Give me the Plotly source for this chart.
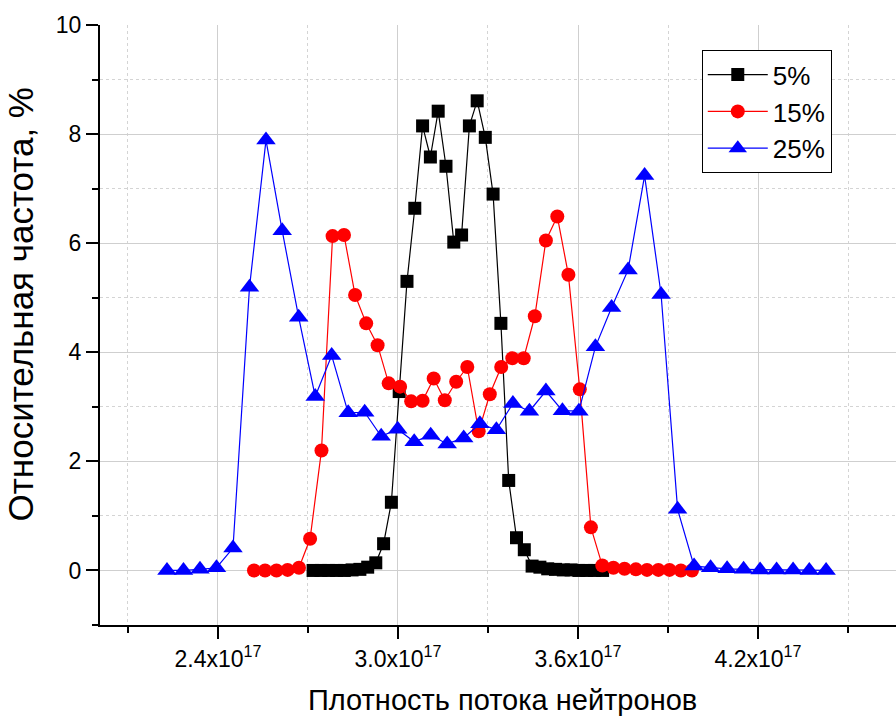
import plotly.graph_objects as go

# x values in units of 1e17
x_5 = [2.717, 2.743, 2.769, 2.795, 2.821, 2.847, 2.873, 2.899, 2.926, 2.952,
       2.978, 3.004, 3.030, 3.056, 3.082, 3.108, 3.134, 3.160, 3.186, 3.212,
       3.238, 3.264, 3.291, 3.317, 3.343, 3.369, 3.395, 3.421, 3.447, 3.473,
       3.499, 3.525, 3.551, 3.577, 3.603, 3.629, 3.655, 3.682]
y_5 = [0, 0, 0, 0, 0, 0.01, 0.02, 0.06, 0.14, 0.49,
       1.25, 3.28, 5.3, 6.64, 8.15, 7.58, 8.42, 7.41, 6.02, 6.15,
       8.15, 8.61, 7.94, 6.9, 4.53, 1.65, 0.6, 0.38, 0.08, 0.06,
       0.03, 0.02, 0.01, 0.01, 0, 0, 0, 0]

x_15 = [2.520, 2.557, 2.595, 2.632, 2.670, 2.707, 2.745, 2.782, 2.820, 2.857,
        2.894, 2.932, 2.969, 3.007, 3.044, 3.082, 3.119, 3.156, 3.194, 3.231,
        3.269, 3.306, 3.344, 3.381, 3.419, 3.456, 3.493, 3.531, 3.568, 3.606,
        3.643, 3.681, 3.718, 3.755, 3.793, 3.830, 3.868, 3.905, 3.943, 3.980]
y_15 = [0, 0, 0, 0.01, 0.05, 0.58, 2.2, 6.13, 6.15, 5.05,
        4.53, 4.13, 3.43, 3.37, 3.1, 3.11, 3.52, 3.12, 3.46, 3.73,
        2.55, 3.23, 3.73, 3.89, 3.89, 4.66, 6.05, 6.49, 5.42, 3.32,
        0.79, 0.09, 0.05, 0.03, 0.02, 0.01, 0.01, 0.01, 0, 0]

x_25 = [2.230, 2.285, 2.340, 2.395, 2.450, 2.505, 2.560, 2.614, 2.669, 2.724,
        2.779, 2.834, 2.889, 2.944, 2.999, 3.054, 3.109, 3.164, 3.219, 3.273,
        3.328, 3.383, 3.438, 3.493, 3.548, 3.603, 3.658, 3.712, 3.767, 3.822,
        3.877, 3.932, 3.987, 4.042, 4.097, 4.152, 4.207, 4.262, 4.317, 4.371,
        4.427]
y_25 = [0, 0, 0.02, 0.05, 0.41, 5.19, 7.89, 6.23, 4.64, 3.19,
        3.94, 2.89, 2.9, 2.46, 2.59, 2.36, 2.48, 2.32, 2.43, 2.69,
        2.58, 3.06, 2.92, 3.29, 2.93, 2.92, 4.1, 4.82, 5.51, 7.24,
        5.06, 1.12, 0.08, 0.05, 0.03, 0.02, 0.01, 0.01, 0.01, 0, 0]

series_names = ["5%", "15%", "25%"]

x_tick_vals = [2.4, 3.0, 3.6, 4.2]
x_tick_text = ["2.4x10<sup>17</sup>", "3.0x10<sup>17</sup>", "3.6x10<sup>17</sup>", "4.2x10<sup>17</sup>"]
x_minor_vals = [2.1, 2.7, 3.3, 3.9, 4.5]
y_tick_vals = [0, 2, 4, 6, 8, 10]
y_minor_vals = [-1, 1, 3, 5, 7, 9]

x_title = "Плотность потока нейтронов"
y_title = "Относительная частота, %"

SCALE = 1e17
FONT = "Liberation Sans, Arial, sans-serif"

fig = go.Figure()
styles = [
    ("#000000", "square", 13),
    ("#FF0000", "circle", 14),
    ("#0000FF", "triangle-up", 17),
]
for (xs, ys, name, (col, sym, sz)) in zip([x_5, x_15, x_25], [y_5, y_15, y_25], series_names, styles):
    fig.add_trace(go.Scatter(
        x=[v * SCALE for v in xs], y=ys, name=name, mode="lines+markers",
        line=dict(color=col, width=1.2),
        marker=dict(color=col, symbol=sym, size=sz, line=dict(width=0)),
    ))

fig.update_layout(
    width=896, height=718,
    margin=dict(l=100, r=0, t=25, b=93, autoexpand=False),
    paper_bgcolor="white", plot_bgcolor="white",
    font=dict(family=FONT, color="black", size=22),
    showlegend=True,
    legend=dict(
        x=0.756, y=0.958, xanchor="left", yanchor="top",
        bordercolor="black", borderwidth=1, bgcolor="white",
        font=dict(size=26, family=FONT),
        itemwidth=60, tracegroupgap=0,
    ),
    xaxis=dict(
        range=[2.0067 * SCALE, 4.66 * SCALE],
        automargin=False,
        tickmode="array",
        tickvals=[v * SCALE for v in x_tick_vals],
        ticktext=x_tick_text,
        ticks="outside", ticklen=12, tickwidth=2, tickcolor="black",
        showline=True, linecolor="black", linewidth=2,
        showgrid=True, gridcolor="#cfcfcf", gridwidth=1,
        zeroline=False,
        tickfont=dict(size=23, family=FONT),
        minor=dict(tickmode="array", tickvals=[v * SCALE for v in x_minor_vals],
                   ticks="outside", ticklen=6, tickwidth=2, tickcolor="black",
                   showgrid=True, gridcolor="#d4d4d4", griddash="dot", gridwidth=1),
    ),
    yaxis=dict(
        range=[-1, 10],
        automargin=False,
        tickmode="array", tickvals=y_tick_vals,
        ticks="outside", ticklen=12, tickwidth=2, tickcolor="black",
        showline=True, linecolor="black", linewidth=2,
        showgrid=True, gridcolor="#cfcfcf", gridwidth=1,
        zeroline=False,
        tickfont=dict(size=23, family=FONT),
        minor=dict(tickmode="array", tickvals=y_minor_vals,
                   ticks="outside", ticklen=6, tickwidth=2, tickcolor="black",
                   showgrid=True, gridcolor="#d4d4d4", griddash="dot", gridwidth=1),
    ),
    annotations=[
        dict(text=x_title, xref="paper", yref="paper", x=0.506, y=-0.155,
             xanchor="center", yanchor="bottom", showarrow=False,
             font=dict(size=29, family=FONT, color="black")),
        dict(text=y_title, xref="paper", yref="paper", x=-0.1, y=0.535,
             xanchor="center", yanchor="middle", showarrow=False, textangle=-90,
             font=dict(size=35, family=FONT, color="black")),
    ],
)

fig.write_html("out.html")
